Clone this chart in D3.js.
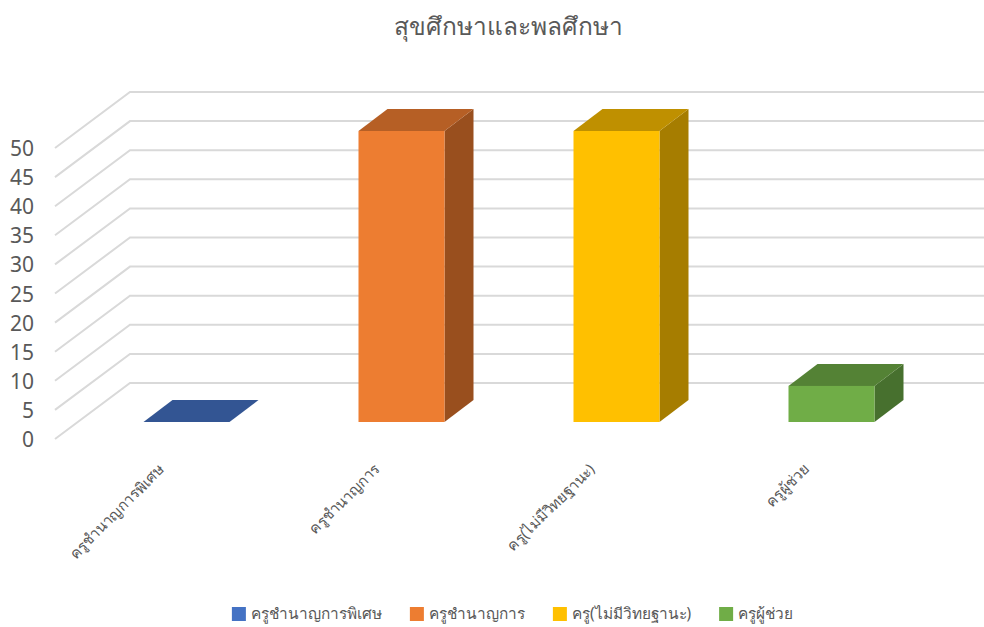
<!DOCTYPE html>
<html>
<head>
<meta charset="utf-8">
<script src="https://cdnjs.cloudflare.com/ajax/libs/d3/7.8.5/d3.min.js"></script>
<style>
  html, body { margin: 0; padding: 0; background: #fff; }
  svg { display: block; }
  text { font-family: "Noto Sans", "DejaVu Sans", sans-serif; fill: #595959; }
</style>
</head>
<body>
<svg width="984" height="627"></svg>
<script>
/*Chart data*/
var chartTitle = "สุขศึกษาและพลศึกษา";
var categories = ["ครูชำนาญการพิเศษ", "ครูชำนาญการ", "ครู(ไม่มีวิทยฐานะ)", "ครูผู้ช่วย"];
var values = [0, 50, 50, 6.2];
var yTicks = [0, 5, 10, 15, 20, 25, 30, 35, 40, 45, 50];
var frontColors = ["#4472c4", "#ed7d31", "#ffc000", "#70ad47"];
var topColors = ["#335593", "#b65f25", "#bf9000", "#548235"];
var sideColors = ["#294476", "#994f1e", "#a67d00", "#47702e"];

var svg = d3.select("svg");

var x = d3.scaleBand().domain(categories).range([79, 939]).paddingInner(0.6).paddingOuter(0.3);
var y = d3.scaleLinear().domain([0, 50]).range([422, 131]);

//3D offsets of the walls and of the bars
var wallLeft = 55, wallBack = 130, wallRight = 984;
var frontDrop = 17, backRise = 39;
var barDx = 29, barDy = -22;

/*Gridlines: floor edge up to the back wall, then across*/
svg.append("g").selectAll("polyline")
  .data(yTicks)
  .enter().append("polyline")
  .attr("fill", "none")
  .attr("stroke", "#d9d9d9")
  .attr("stroke-width", 2)
  .attr("points", function(d) {
    return [[wallLeft, y(d) + frontDrop], [wallBack, y(d) - backRise], [wallRight, y(d) - backRise]].join(" ");
  });

/*Y axis labels*/
svg.append("g").selectAll("text")
  .data(yTicks)
  .enter().append("text")
  .attr("x", 34)
  .attr("y", function(d) { return y(d) + frontDrop; })
  .attr("dy", 8)
  .attr("text-anchor", "end")
  .attr("font-size", 21)
  .text(function(d) { return d; });

/*Bars*/
var bars = svg.append("g").selectAll("g")
  .data(categories)
  .enter().append("g");

function facePath(pts) { return d3.line()(pts) + "Z"; }

bars.append("path")
  .attr("fill", function(d, i) { return sideColors[i]; })
  .attr("d", function(d, i) {
    var r = x(d) + x.bandwidth();
    return facePath([[r, y(values[i])], [r + barDx, y(values[i]) + barDy], [r + barDx, y(0) + barDy], [r, y(0)]]);
  });

bars.append("path")
  .attr("fill", function(d, i) { return topColors[i]; })
  .attr("d", function(d, i) {
    var l = x(d), r = l + x.bandwidth(), t = y(values[i]);
    return facePath([[l, t], [l + barDx, t + barDy], [r + barDx, t + barDy], [r, t]]);
  });

bars.append("rect")
  .attr("fill", function(d, i) { return frontColors[i]; })
  .attr("x", function(d) { return x(d); })
  .attr("y", function(d, i) { return y(values[i]); })
  .attr("width", x.bandwidth())
  .attr("height", function(d, i) { return y(0) - y(values[i]); });

/*Category labels, rotated*/
svg.append("g").selectAll("text")
  .data(categories)
  .enter().append("text")
  .attr("text-anchor", "end")
  .attr("font-size", 15)
  .attr("transform", function(d) {
    return "translate(" + (x(d) + x.bandwidth() / 2 - 21) + ",470) rotate(-45)";
  })
  .text(function(d) { return d; });

/*Title*/
svg.append("text")
  .attr("x", 508)
  .attr("y", 35)
  .attr("text-anchor", "middle")
  .attr("font-size", 24.5)
  .text(chartTitle);

/*Legend, laid out from the measured text widths*/
var swatch = 14, swatchGap = 5, itemGap = 28;
var legend = svg.append("g");
var items = legend.selectAll("g")
  .data(categories)
  .enter().append("g");

items.append("rect")
  .attr("y", 607)
  .attr("width", swatch)
  .attr("height", swatch)
  .attr("fill", function(d, i) { return frontColors[i]; });

items.append("text")
  .attr("x", swatch + swatchGap)
  .attr("y", 619)
  .attr("font-size", 15.4)
  .text(function(d) { return d; });

var cursor = 0;
items.each(function() {
  var w = d3.select(this).select("text").node().getComputedTextLength();
  d3.select(this).attr("transform", "translate(" + cursor + ",0)");
  cursor += swatch + swatchGap + w + itemGap;
});
legend.attr("transform", "translate(" + (512.5 - (cursor - itemGap) / 2) + ",0)");
</script>
</body>
</html>
